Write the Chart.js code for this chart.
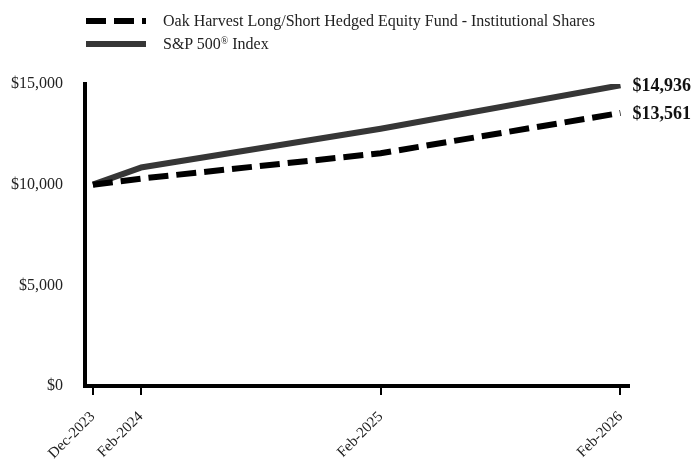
<!DOCTYPE html>
<html>
<head>
<meta charset="utf-8">
<script src="https://cdn.jsdelivr.net/npm/chart.js@4.4.1/dist/chart.umd.min.js"></script>
<style>
  body { margin: 0; background: #fff; font-family: "Liberation Serif", "Times New Roman", serif; }
  #wrap { position: relative; width: 696px; height: 466px; }
  .legend { position: absolute; left: 86px; top: 9px; font-size: 16px; color: #222; }
  .legend .row { display: flex; align-items: center; height: 23px; }
  .swatch { width: 60px; height: 6px; margin-right: 17px; }
  .dash { background: repeating-linear-gradient(90deg, #000 0 20px, transparent 20px 28px); }
  .solid { background: #363636; }
  .reg { font-size: 10px; position: relative; top: -5px; }
</style>
</head>
<body>
<div id="wrap">
  <canvas id="growth-chart" width="696" height="466"></canvas>
  <div class="legend">
    <div class="row"><span class="swatch dash"></span><span id="lg-fund"></span></div>
    <div class="row"><span class="swatch solid"></span><span>S&amp;P 500<span class="reg">®</span> Index</span></div>
  </div>
</div>
<script>
// 数据
var seriesNames = ["Oak Harvest Long/Short Hedged Equity Fund - Institutional Shares", "S&P 500® Index"];
var dateLabels = ["Dec-2023", "Feb-2024", "Feb-2025", "Feb-2026"];
var dates = ["2023-12-18", "2024-02-29", "2025-02-28", "2026-02-28"];
var fundValues = [10000, 10300, 11560, 13561];
var indexValues = [10000, 10850, 12780, 14936];
var yTicks = [0, 5000, 10000, 15000];

document.getElementById("lg-fund").textContent = seriesNames[0];

// 日期 -> 距起点天数
var t0 = Date.parse(dates[0]);
var xDays = dates.map(function (d) { return Math.round((Date.parse(d) - t0) / 86400000); });

function toPoints(vals) {
  return vals.map(function (v, i) { return { x: xDays[i], y: v }; });
}

// 终点数值标签
var endLabels = {
  id: "endLabels",
  afterDatasetsDraw: function (chart) {
    var ctx = chart.ctx;
    ctx.save();
    ctx.font = "bold 18px 'Liberation Serif'";
    ctx.fillStyle = "#111";
    ctx.textBaseline = "middle";
    chart.data.datasets.forEach(function (ds, i) {
      var pts = chart.getDatasetMeta(i).data;
      var p = pts[pts.length - 1];
      var v = ds.data[ds.data.length - 1].y;
      ctx.fillText("$" + v.toLocaleString("en-US"), p.x + 12, p.y + 1);
    });
    ctx.restore();
  }
};

var ctx = document.getElementById("growth-chart").getContext("2d");
new Chart(ctx, {
  type: "line",
  data: {
    datasets: [
      {
        label: seriesNames[0],
        data: toPoints(fundValues),
        borderColor: "#000",
        borderWidth: 6,
        borderDash: [20, 8],
        borderCapStyle: "butt",
        pointRadius: 0,
        tension: 0,
      },
      {
        label: seriesNames[1],
        data: toPoints(indexValues),
        borderColor: "#363636",
        borderWidth: 6,
        borderJoinStyle: "round",
        pointRadius: 0,
        tension: 0,
      },
    ],
  },
  options: {
    responsive: false,
    animation: false,
    layout: { padding: { top: 84, right: 67, bottom: 0, left: 0 } },
    plugins: {
      legend: { display: false },
      tooltip: { enabled: false },
    },
    scales: {
      x: {
        type: "linear",
        min: -12,
        max: 816,
        afterBuildTicks: function (s) {
          s.ticks = xDays.map(function (v) { return { value: v }; });
        },
        afterFit: function (s) { s.height = 80; },
        ticks: {
          autoSkip: false,
          maxRotation: 45,
          minRotation: 45,
          padding: 13,
          color: "#222",
          font: { family: "Liberation Serif", size: 15 },
          callback: function (v) { return dateLabels[xDays.indexOf(v)]; },
        },
        grid: { display: true, drawOnChartArea: false, drawTicks: true, tickLength: 9, color: "#000", lineWidth: 2 },
        border: { display: true, color: "#000", width: 4 },
      },
      y: {
        min: 0,
        max: 15000,
        afterBuildTicks: function (s) {
          s.ticks = yTicks.map(function (v) { return { value: v }; });
        },
        afterFit: function (s) { s.width = 85; },
        ticks: {
          padding: 22,
          color: "#222",
          font: { family: "Liberation Serif", size: 16 },
          callback: function (v) { return "$" + v.toLocaleString("en-US"); },
        },
        grid: { display: false, drawTicks: false },
        border: { display: true, color: "#000", width: 4 },
      },
    },
  },
  plugins: [endLabels],
});
</script>
</body>
</html>
